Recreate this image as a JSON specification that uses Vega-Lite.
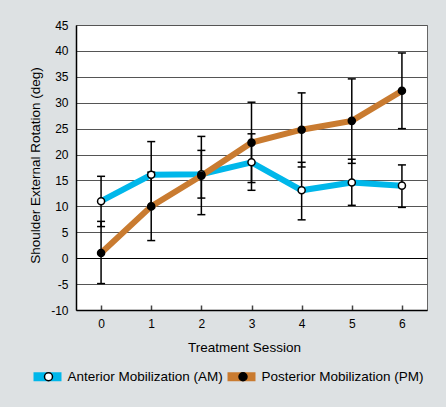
{
  "$schema": "https://vega.github.io/schema/vega-lite/v6.json",
  "width": 351,
  "height": 285,
  "autosize": {"type": "none"},
  "padding": {"left": 76, "top": 25, "right": 19, "bottom": 97},
  "background": "#dde1e3",
  "config": {
    "font": "Liberation Sans",
    "view": {"fill": "white", "stroke": "#666666", "strokeWidth": 1},
    "axis": {"labelColor": "black", "titleColor": "black", "titleFontWeight": "normal", "labelFont": "Liberation Sans", "titleFont": "Liberation Sans"},
    "legend": {"padding": 0, "labelFont": "Liberation Sans", "labelColor": "black", "labelLimit": 400}
  },
  "data": {
    "values": [
      {"session": 0, "group": "Anterior Mobilization (AM)", "mean": 11.0, "lower": 6.1, "upper": 15.8},
      {"session": 1, "group": "Anterior Mobilization (AM)", "mean": 16.1, "lower": 9.7, "upper": 22.5},
      {"session": 2, "group": "Anterior Mobilization (AM)", "mean": 16.2, "lower": 11.6, "upper": 20.8},
      {"session": 3, "group": "Anterior Mobilization (AM)", "mean": 18.5, "lower": 13.1, "upper": 24.0},
      {"session": 4, "group": "Anterior Mobilization (AM)", "mean": 13.1, "lower": 7.4, "upper": 18.5},
      {"session": 5, "group": "Anterior Mobilization (AM)", "mean": 14.6, "lower": 10.2, "upper": 19.1},
      {"session": 6, "group": "Anterior Mobilization (AM)", "mean": 14.0, "lower": 9.8, "upper": 18.0},
      {"session": 0, "group": "Posterior Mobilization (PM)", "mean": 1.0, "lower": -4.9, "upper": 7.1},
      {"session": 1, "group": "Posterior Mobilization (PM)", "mean": 10.0, "lower": 3.4, "upper": 16.6},
      {"session": 2, "group": "Posterior Mobilization (PM)", "mean": 15.9, "lower": 8.4, "upper": 23.5},
      {"session": 3, "group": "Posterior Mobilization (PM)", "mean": 22.3, "lower": 14.6, "upper": 30.1},
      {"session": 4, "group": "Posterior Mobilization (PM)", "mean": 24.8, "lower": 17.6, "upper": 31.9},
      {"session": 5, "group": "Posterior Mobilization (PM)", "mean": 26.5, "lower": 18.3, "upper": 34.6},
      {"session": 6, "group": "Posterior Mobilization (PM)", "mean": 32.3, "lower": 25.0, "upper": 39.6}
    ]
  },
  "encoding": {
    "x": {
      "field": "session", "type": "quantitative",
      "scale": {"domain": [-0.5, 6.5], "nice": false, "zero": false},
      "axis": {
        "title": "Treatment Session", "titleFontSize": 13.5, "titleX": 168, "titleY": 41, "titleBaseline": "alphabetic",
        "values": [0, 1, 2, 3, 4, 5, 6], "format": "d", "grid": false,
        "domainColor": "black", "domainWidth": 1.5,
        "tickSize": -5, "tickColor": "#444444", "tickWidth": 1.5,
        "labelFontSize": 12, "labelPadding": 13
      }
    },
    "y": {
      "field": "mean", "type": "quantitative",
      "scale": {"domain": [-10, 45], "nice": false, "zero": false},
      "axis": {
        "title": "Shoulder External Rotation (deg)", "titleFontSize": 13.5, "titleX": -37, "titleY": 140, "titleBaseline": "alphabetic",
        "values": [-10, -5, 0, 5, 10, 15, 20, 25, 30, 35, 40, 45],
        "labelExpr": "'' + datum.value",
        "grid": true, "gridColor": {"condition": {"test": "datum.value === 0", "value": "black"}, "value": "#555555"}, "gridWidth": 1,
        "ticks": false, "domainColor": "black", "domainWidth": 1.5,
        "labelFontSize": 12, "labelPadding": 8
      }
    }
  },
  "layer": [
    {
      "mark": {"type": "line", "strokeWidth": 6},
      "encoding": {
        "color": {
          "field": "group", "type": "nominal",
          "scale": {"domain": ["Anterior Mobilization (AM)", "Posterior Mobilization (PM)"], "range": ["#00b7ea", "#c97b30"]},
          "legend": {
            "orient": "none", "legendX": -47, "legendY": 333, "direction": "horizontal", "title": null,
            "symbolType": "stroke", "symbolStrokeWidth": 9, "symbolSize": 784,
            "labelFontSize": 13.5, "labelOffset": 1.5, "columnPadding": -18.5
          }
        }
      }
    },
    {
      "mark": {"type": "rule", "color": "black", "strokeWidth": 1.5},
      "encoding": {"y": {"field": "lower", "type": "quantitative"}, "y2": {"field": "upper"}}
    },
    {
      "mark": {"type": "tick", "orient": "horizontal", "color": "black", "thickness": 1.5, "size": 8, "opacity": 1},
      "encoding": {"y": {"field": "lower", "type": "quantitative"}}
    },
    {
      "mark": {"type": "tick", "orient": "horizontal", "color": "black", "thickness": 1.5, "size": 8, "opacity": 1},
      "encoding": {"y": {"field": "upper", "type": "quantitative"}}
    },
    {
      "mark": {"type": "point", "shape": "circle", "filled": true, "size": 50, "stroke": "black", "strokeWidth": 1.5, "opacity": 1},
      "encoding": {
        "fill": {
          "field": "group", "type": "nominal",
          "scale": {"range": ["white", "black"]},
          "legend": {
            "orient": "none", "legendX": -46, "legendY": 333, "direction": "horizontal", "title": null,
            "symbolType": "M-0.225,0a0.225,0.225 0 1,0 0.45,0a0.225,0.225 0 1,0 -0.45,0Z",
            "symbolSize": 1260.25, "symbolStrokeColor": "black", "symbolStrokeWidth": 1.5,
            "labelExpr": "''", "labelFontSize": 13.5, "labelOffset": 1.5, "columnPadding": 155.5
          }
        }
      }
    }
  ]
}
